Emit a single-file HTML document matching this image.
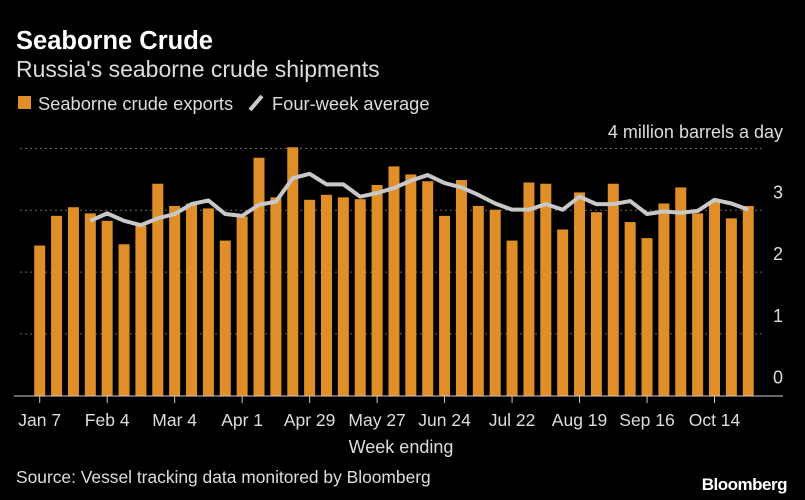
<!DOCTYPE html>
<html><head><meta charset="utf-8"><style>
body{margin:0;background:#000;width:805px;height:500px;overflow:hidden;font-family:"Liberation Sans",sans-serif;color:#ddd}
svg{position:absolute;left:0;top:0}
</style></head><body>
<svg width="805" height="500">
<text x="16" y="49" fill="#fff" font-size="25.5" font-weight="bold">Seaborne Crude</text>
<text x="16" y="77" fill="#ddd" font-size="23">Russia's seaborne crude shipments</text>
<g>
<rect x="18" y="96" width="13" height="13" fill="#e08e27"/>
<text x="38" y="110" fill="#ddd" font-size="18.3">Seaborne crude exports</text>
<line x1="250" y1="110" x2="262" y2="96" stroke="#ccc" stroke-width="4"/>
<text x="272" y="110" fill="#ddd" font-size="18.3">Four-week average</text>
</g>
<text x="783" y="138" fill="#ddd" font-size="18" text-anchor="end">4 million barrels a day</text>
<g id="grid"></g><g id="bars"></g><g id="line"></g><g id="xaxis"></g>
<text x="401" y="453" fill="#ddd" font-size="18" text-anchor="middle">Week ending</text>
<text x="16" y="483" fill="#ddd" font-size="17.4">Source: Vessel tracking data monitored by Bloomberg</text>
<text x="787" y="490" fill="#fff" font-size="17" font-weight="bold" text-anchor="end" letter-spacing="-0.5">Bloomberg</text>
</svg>
<script>
const exportsValues=[2.43,2.91,3.05,2.95,2.83,2.45,2.75,3.43,3.07,3.11,3.03,2.51,2.90,3.85,3.21,4.02,3.17,3.25,3.21,3.18,3.41,3.71,3.58,3.47,2.91,3.49,3.07,3.01,2.51,3.45,3.43,2.69,3.29,2.97,3.43,2.81,2.55,3.11,3.37,2.95,3.14,2.87,3.07];
const averageValues=[null,null,null,2.83,2.95,2.83,2.76,2.87,2.94,3.10,3.16,2.94,2.91,3.09,3.14,3.52,3.59,3.42,3.42,3.22,3.28,3.36,3.48,3.57,3.44,3.37,3.25,3.11,3.01,3.01,3.10,3.01,3.22,3.10,3.10,3.15,2.94,2.98,2.96,2.99,3.17,3.11,3.01];
const xTickLabels=["Jan 7","Feb 4","Mar 4","Apr 1","Apr 29","May 27","Jun 24","Jul 22","Aug 19","Sep 16","Oct 14"];
const yTicks=[0,1,2,3];
const NS="http://www.w3.org/2000/svg";
const X=i=>39.7+i*16.87, Y=v=>395.7-v*61.8;
function mk(t,a,p){const e=document.createElementNS(NS,t);for(const k in a)e.setAttribute(k,a[k]);p.appendChild(e);return e;}
const grid=document.getElementById('grid');
[...yTicks,4].forEach(v=>{
 if(v>0){const l=mk('line',{x1:20,x2:762,y1:Y(v),y2:Y(v),stroke:'#666','stroke-dasharray':'2,3'},grid);
 
 }
 if(v<4){const t=mk('text',{x:783,y:Y(v)-12,fill:'#ddd','font-size':18,'text-anchor':'end'},grid);t.textContent=v;
 
 }
});
const bars=document.getElementById('bars');
exportsValues.forEach((v,i)=>{const r=mk('rect',{x:X(i)-5.5,y:Y(v),width:11,height:Y(0)-Y(v),fill:'#e08e27'},bars);
 
 });
const pts=averageValues.map((v,i)=>v==null?null:X(i)+','+Y(v)).filter(p=>p);
const pl=mk('polyline',{points:pts.join(' '),fill:'none',stroke:'#c8c8c8','stroke-width':4,'stroke-linejoin':'round'},document.getElementById('line'));


const xa=document.getElementById('xaxis');
const base=mk('line',{x1:14,x2:783,y1:396,y2:396,stroke:'#ccc','stroke-width':1},xa);


xTickLabels.forEach((s,k)=>{const x=X(k*4);
 const tk=mk('line',{x1:x,x2:x,y1:396,y2:403,stroke:'#ccc'},xa);
 
 
 const t=mk('text',{x:x,y:426,fill:'#ddd','font-size':17.5,'text-anchor':'middle'},xa);t.textContent=s;
 
 });
</script>
</body></html>
